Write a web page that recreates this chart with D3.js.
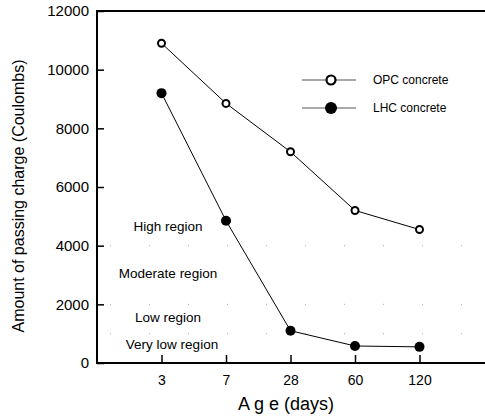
<!DOCTYPE html>
<html>
<head>
<meta charset="utf-8">
<script src="https://cdn.jsdelivr.net/npm/d3@7"></script>
<style>
body { margin: 0; background: #fff; }
text { font-family: "Liberation Sans", Arial, sans-serif; }
</style>
</head>
<body>
<svg width="485" height="417"></svg>
<script>
var ages = ['3', '7', '28', '60', '120'];
var opc = [10900, 8850, 7200, 5200, 4550];
var lhc = [9200, 4850, 1100, 580, 550];
var yTicks = [0, 2000, 4000, 6000, 8000, 10000, 12000];
var regionLines = [4000, 2000, 1000];
var regions = [
    {name: 'High region', v: 4500},
    {name: 'Moderate region', v: 2900},
    {name: 'Low region', v: 1400},
    {name: 'Very low region', v: 480}
];

var svg = d3.select('svg');

var scaleX = d3.scaleLinear().domain([0, 6]).range([97, 484]);
var scaleY = d3.scaleLinear().domain([0, 12000]).range([363, 11]);
function xPos(i) { return scaleX(i + 1); }

// region boundaries (faint dotted)
svg.selectAll('.region-line')
    .data(regionLines)
    .enter()
    .append('line')
    .attr('x1', 110)
    .attr('x2', 470)
    .attr('y1', function(d) { return scaleY(d); })
    .attr('y2', function(d) { return scaleY(d); })
    .attr('stroke', '#aaa')
    .attr('stroke-width', 1)
    .attr('stroke-dasharray', '1,38');

svg.selectAll('.region-label')
    .data(regions)
    .enter()
    .append('text')
    .attr('x', function(d, i) { return i == 3 ? 172 : 168; })
    .attr('y', function(d) { return scaleY(d.v); })
    .attr('text-anchor', 'middle')
    .attr('font-size', 13.5)
    .text(function(d) { return d.name; });

// axes
var yAxis = d3.axisLeft(scaleY).tickValues(yTicks).tickSize(-7).tickPadding(8).tickFormat(d3.format('d'));
var gy = svg.append('g')
    .attr('transform', 'translate(97,0)')
    .call(yAxis);
gy.select('.domain').attr('stroke-width', 2).attr('d', 'M0,11V364');
gy.selectAll('.tick line').attr('stroke-width', 1.5);
gy.selectAll('.tick text').attr('font-size', 15).attr('font-family', '"Liberation Sans", Arial, sans-serif').attr('fill', '#000');

var xAxis = d3.axisBottom(scaleX).tickValues([1, 2, 3, 4, 5]).tickSize(-8).tickPadding(12)
    .tickFormat(function(d) { return ages[d - 1]; });
var gx = svg.append('g')
    .attr('transform', 'translate(0,363)')
    .call(xAxis);
gx.select('.domain').attr('stroke-width', 2).attr('d', 'M96,0H485');
gx.selectAll('.tick line').attr('stroke-width', 1.5);
gx.selectAll('.tick text').attr('font-size', 14).attr('font-family', '"Liberation Sans", Arial, sans-serif').attr('fill', '#000');

// top border
svg.append('line')
    .attr('x1', 96).attr('x2', 485)
    .attr('y1', 11).attr('y2', 11)
    .attr('stroke', '#000').attr('stroke-width', 2);

// lines
var line = d3.line()
    .x(function(d, i) { return xPos(i); })
    .y(function(d) { return scaleY(d); });

svg.append('path').datum(opc).attr('d', line).attr('fill', 'none').attr('stroke', '#000').attr('stroke-width', 1);
svg.append('path').datum(lhc).attr('d', line).attr('fill', 'none').attr('stroke', '#000').attr('stroke-width', 1);

svg.selectAll('.opc')
    .data(opc)
    .enter()
    .append('circle')
    .attr('cx', function(d, i) { return xPos(i); })
    .attr('cy', function(d) { return scaleY(d); })
    .attr('r', 3.5)
    .attr('fill', '#fff')
    .attr('stroke', '#000')
    .attr('stroke-width', 2);

svg.selectAll('.lhc')
    .data(lhc)
    .enter()
    .append('circle')
    .attr('cx', function(d, i) { return xPos(i); })
    .attr('cy', function(d) { return scaleY(d); })
    .attr('r', 5)
    .attr('fill', '#000');

// legend
var legend = [{name: 'OPC concrete', filled: false}, {name: 'LHC concrete', filled: true}];
var lg = svg.selectAll('.legend')
    .data(legend)
    .enter()
    .append('g')
    .attr('transform', function(d, i) { return 'translate(0,' + (80 + i * 28) + ')'; });
lg.append('line')
    .attr('x1', 302).attr('x2', 356)
    .attr('stroke', '#555').attr('stroke-width', 1);
lg.append('circle')
    .attr('cx', 331)
    .attr('r', function(d) { return d.filled ? 6 : 4.5; })
    .attr('fill', function(d) { return d.filled ? '#000' : '#fff'; })
    .attr('stroke', '#000')
    .attr('stroke-width', function(d) { return d.filled ? 0 : 2.2; });
lg.append('text')
    .attr('x', 373)
    .attr('y', 4)
    .attr('font-size', 12)
    .text(function(d) { return d.name; });

// axis titles
svg.append('text')
    .attr('x', 286)
    .attr('y', 410)
    .attr('text-anchor', 'middle')
    .attr('font-size', 18)
    .text('A g e (days)');

svg.append('text')
    .attr('transform', 'translate(24,196) rotate(270)')
    .attr('text-anchor', 'middle')
    .attr('font-size', 16)
    .text('Amount of passing charge (Coulombs)');
</script>
</body>
</html>
